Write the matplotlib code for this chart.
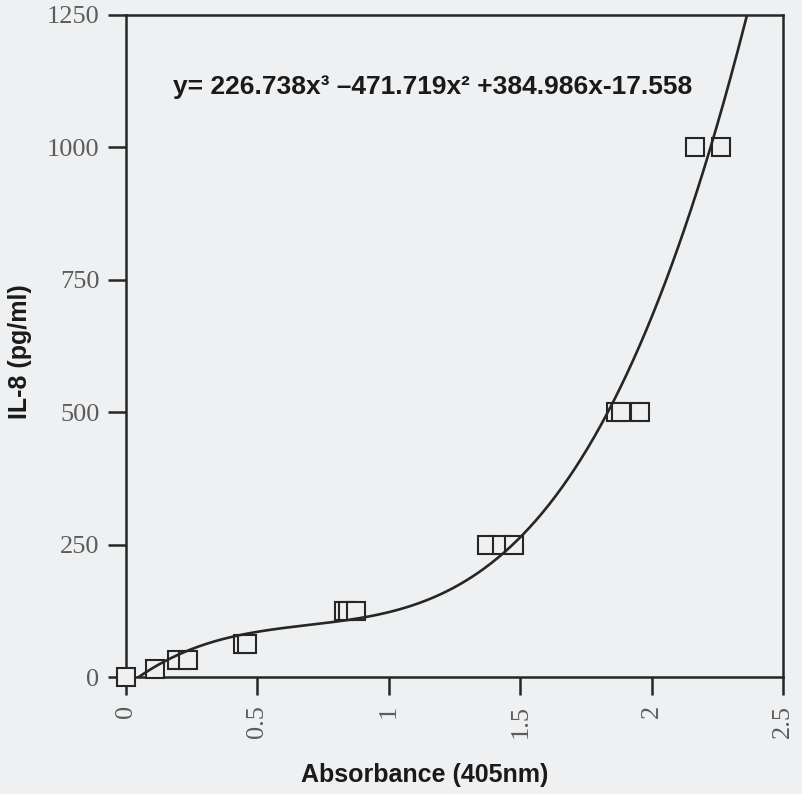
import numpy as np
import matplotlib
matplotlib.use("Agg")
import matplotlib.pyplot as plt

# --- standard curve data (IL-8 ELISA) ---
conc = [0, 15.6, 31.25, 31.25, 62.5, 62.5, 125, 125, 125,
        250, 250, 250, 500, 500, 500, 1000, 1000]
absorbance = [0.0, 0.11, 0.195, 0.235, 0.445, 0.46, 0.83, 0.845, 0.875,
              1.375, 1.43, 1.475, 1.865, 1.885, 1.955, 2.166, 2.263]

# cubic fit coefficients (highest power first)
fit_coef = [226.738, -471.719, 384.986, -17.558]

x_ticks = [0, 0.5, 1, 1.5, 2, 2.5]
x_ticklabels = ["0", "0.5", "1", "1.5", "2", "2.5"]
y_ticks = [0, 250, 500, 750, 1000, 1250]

BG = "#eef0f2"
INK = "#262626"

fig = plt.figure(figsize=(8.02, 7.94), dpi=100)
fig.patch.set_facecolor(BG)
ax = fig.add_axes([126 / 802, 1 - 677 / 794, 657 / 802, 662 / 794])
ax.set_facecolor(BG)

ax.set_xlim(0, 2.5)
ax.set_ylim(0, 1250)

# fitted curve
xs = np.linspace(0, 2.45, 500)
ax.plot(xs, np.polyval(fit_coef, xs), color=INK, lw=1.9, zorder=4)

# open squares for the standards
ax.plot(absorbance, conc, linestyle="none", marker="s", markersize=13.5,
        markerfacecolor=BG, markeredgecolor=INK, markeredgewidth=1.5,
        clip_on=False, zorder=3)

# --- axes styling ---
for side in ["left", "bottom", "top", "right"]:
    ax.spines[side].set_linewidth(1.8)
    ax.spines[side].set_color(INK)

ax.set_xticks(x_ticks)
ax.set_xticklabels(x_ticklabels, rotation=90)
ax.set_yticks(y_ticks)
ax.tick_params(direction="out", length=13, width=1.8, color=INK,
               top=False, right=False)
ax.tick_params(axis="x", pad=7)
ax.tick_params(axis="y", pad=6)
for lab in ax.get_xticklabels() + ax.get_yticklabels():
    lab.set_family("Liberation Serif")
    lab.set_fontsize(19)
    lab.set_color("#5c5c5c")

label_kw = dict(family="Liberation Sans", fontweight="bold", fontsize=18,
                color="#1a1a1a", ha="center", va="center")
fig.text(425 / 802, 1 - 775 / 794, "Absorbance (405nm)", **label_kw)
fig.text(20 / 802, 1 - 352 / 794, "IL-8 (pg/ml)", rotation=90, **label_kw)

fig.text(173 / 802, 1 - 87 / 794,
         "y= 226.738x\u00b3 \u2013471.719x\u00b2 +384.986x-17.558",
         family="Liberation Sans", fontweight="bold", fontsize=19,
         color="#1a1a1a", ha="left", va="center")

fig.savefig("out.png", dpi=100, facecolor=BG)
